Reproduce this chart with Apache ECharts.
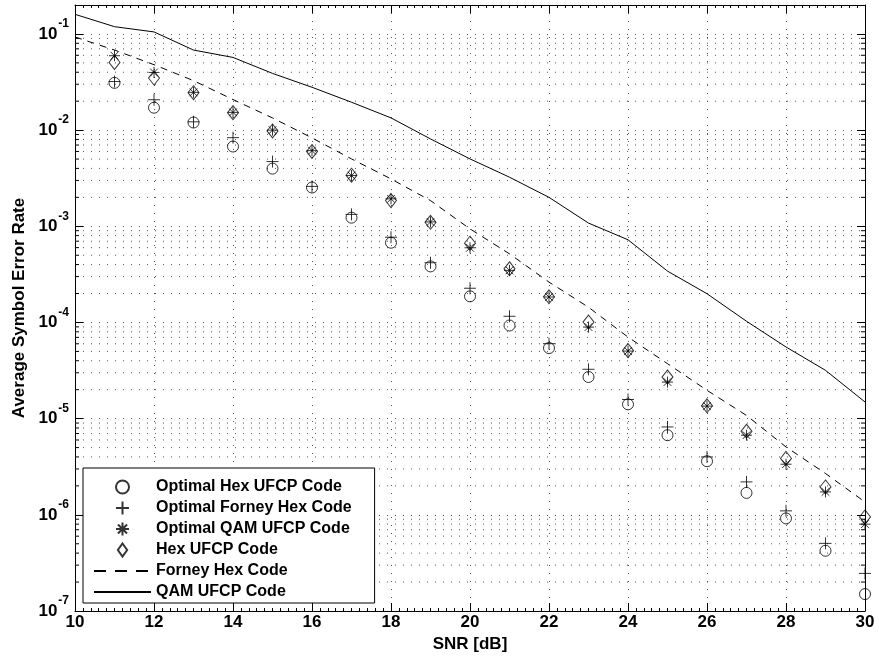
<!DOCTYPE html>
<html>
<head>
<meta charset="utf-8">
<script src="https://cdn.jsdelivr.net/npm/echarts@6/dist/echarts.min.js"></script>
<style>
  html, body { margin: 0; padding: 0; background: #fff; }
  #chart { width: 879px; height: 664px; }
</style>
</head>
<body>
<div id="chart"></div>
<script>
// SNR points (dB)
const snrMarkers = [11, 12, 13, 14, 15, 16, 17, 18, 19, 20, 21, 22, 23, 24, 25, 26, 27, 28, 29, 30];
const snrLines = [10, 11, 12, 13, 14, 15, 16, 17, 18, 19, 20, 21, 22, 23, 24, 25, 26, 27, 28, 29, 30];

// symbol error rates
const optHexUfcp = [0.031, 0.0171, 0.0120, 0.00675, 0.00398, 0.00253, 0.00123, 6.75e-4, 3.83e-4, 1.87e-4,
  9.3e-5, 5.42e-5, 2.71e-5, 1.41e-5, 6.73e-6, 3.61e-6, 1.69e-6, 9.18e-7, 4.23e-7, 1.50e-7];
const optForneyHex = [0.032, 0.0207, 0.0122, 0.00835, 0.00471, 0.0026, 0.00133, 7.7e-4, 4.18e-4, 2.27e-4,
  1.16e-4, 6.02e-5, 3.26e-5, 1.58e-5, 8.2e-6, 4.0e-6, 2.2e-6, 1.10e-6, 5.05e-7, 2.46e-7];
const optQamUfcp = [0.0594, 0.0398, 0.0247, 0.0153, 0.0100, 0.00612, 0.00337, 0.00193, 0.00111, 5.98e-4,
  3.48e-4, 1.84e-4, 8.95e-5, 5.04e-5, 2.40e-5, 1.35e-5, 6.73e-6, 3.36e-6, 1.73e-6, 8.0e-7];
const hexUfcp = [0.0506, 0.0348, 0.0245, 0.0152, 0.0098, 0.0060, 0.0034, 0.00185, 0.0011, 6.67e-4,
  3.62e-4, 1.85e-4, 1.01e-4, 5.1e-5, 2.71e-5, 1.36e-5, 7.4e-6, 3.86e-6, 1.95e-6, 9.5e-7];
const forneyHex = [0.093, 0.068, 0.0479, 0.0327, 0.0208, 0.0134, 0.0083, 0.00502, 0.00311, 0.00185, 9.4e-4,
  5.17e-4, 2.63e-4, 1.44e-4, 7.05e-5, 3.73e-5, 1.97e-5, 1.08e-5, 5.08e-6, 2.69e-6, 1.36e-6];
const qamUfcp = [0.16, 0.119, 0.105, 0.068, 0.057, 0.0389, 0.0279, 0.0195, 0.0134, 0.0081, 0.00502,
  0.00324, 0.002, 0.00108, 7.24e-4, 3.42e-4, 1.99e-4, 1.03e-4, 5.56e-5, 3.18e-5, 1.49e-5];

const seriesNames = ['Optimal Hex UFCP Code', 'Optimal Forney Hex Code', 'Optimal QAM UFCP Code',
  'Hex UFCP Code', 'Forney Hex Code', 'QAM UFCP Code'];

const FONT = '"Liberation Sans", Arial, Helvetica, sans-serif';
const X_MIN = 10, X_MAX = 30, Y_MIN = 1e-7, Y_MAX = 0.2;

// minor log grid lines at 2..9 x 10^k
const minorVals = [];
for (let k = -7; k <= -1; k++) {
  for (let m = 2; m <= 9; m++) {
    const v = m * Math.pow(10, k);
    if (v < Y_MAX) minorVals.push([X_MIN, v]);
  }
}

const zip = (xs, ys) => xs.map((x, i) => [x, ys[i]]);

const plusPath = 'path://M5,0L5,10M0,5L10,5';
const starPath = 'path://M5,0L5,10M0,5L10,5M1.5,1.5L8.5,8.5M1.5,8.5L8.5,1.5';
const diamondPath = 'path://M5,0L10,7L5,14L0,7Z';
const markerStyle = { color: 'transparent', borderColor: '#000', borderWidth: 1 };

const chart = echarts.init(document.getElementById('chart'), null, { renderer: 'canvas' });

const dotted = { color: '#555', width: 1, type: [1, 7] };

const options = {
  animation: false,
  backgroundColor: '#fff',
  grid: { left: 75, right: 14, top: 5, bottom: 53 },
  legend: {
    orient: 'vertical',
    left: 83,
    top: 468,
    data: seriesNames.map((n, i) => i === 4 ? { name: n, lineStyle: { type: [12, 9] } } : n),
    itemWidth: 57,
    itemHeight: 13,
    itemGap: 5,
    padding: [11, 23, 3, 10],
    backgroundColor: '#fff',
    borderColor: '#000',
    borderWidth: 1,
    borderRadius: 0,
    selectedMode: false,
    textStyle: { fontFamily: FONT, fontWeight: 'bold', fontSize: 16, color: '#000', lineHeight: 16 },
  },
  xAxis: [
    {
      type: 'value', min: X_MIN, max: X_MAX, interval: 2,
      name: 'SNR [dB]', nameLocation: 'middle', nameGap: 19,
      nameTextStyle: { fontFamily: FONT, fontWeight: 'bold', fontSize: 17, color: '#000' },
      axisLine: { show: true, lineStyle: { color: '#000', width: 1 } },
      axisTick: { inside: true, length: 8, lineStyle: { color: '#000' } },
      minorTick: { show: true, splitNumber: 10, length: 3, lineStyle: { color: '#000' } },
      axisLabel: { margin: 3, fontFamily: FONT, fontWeight: 'bold', fontSize: 17, color: '#000',
        formatter: v => String(v) },
      splitLine: { show: true, lineStyle: dotted },
    },
    {
      type: 'value', position: 'top', min: X_MIN, max: X_MAX, interval: 2,
      axisLine: { show: true, onZero: false, lineStyle: { color: '#000', width: 1 } },
      axisTick: { inside: true, length: 8, lineStyle: { color: '#000' } },
      minorTick: { show: true, splitNumber: 10, length: 3, lineStyle: { color: '#000' } },
      axisLabel: { show: false },
      splitLine: { show: false },
    },
  ],
  yAxis: [
    {
      type: 'log', logBase: 10, min: Y_MIN, max: Y_MAX, splitNumber: 7,
      name: 'Average Symbol Error Rate', nameLocation: 'middle', nameGap: 47,
      nameTextStyle: { fontFamily: FONT, fontWeight: 'bold', fontSize: 17, color: '#000' },
      axisLine: { show: true, lineStyle: { color: '#000', width: 1 } },
      axisTick: { inside: true, length: 8, lineStyle: { color: '#000' } },
      axisLabel: {
        margin: 6,
        formatter: function (v) {
          const e = Math.round(Math.log10(v));
          if (Math.abs(Math.log10(v) - e) > 1e-6) return '';
          return '{b|10}{s|' + e + '}';
        },
        rich: {
          b: { fontFamily: FONT, fontWeight: 'bold', fontSize: 17, color: '#000', lineHeight: 17,
            padding: [12.5, 0, 0, 0], verticalAlign: 'bottom' },
          s: { fontFamily: FONT, fontWeight: 'bold', fontSize: 12, color: '#000', lineHeight: 12,
            padding: [0, 0, 12.5, 1], verticalAlign: 'bottom' },
        },
      },
      splitLine: { show: true, lineStyle: dotted },
    },
    {
      type: 'log', logBase: 10, min: Y_MIN, max: Y_MAX, splitNumber: 7, position: 'right',
      axisLine: { show: true, onZero: false, lineStyle: { color: '#000', width: 1 } },
      axisTick: { inside: true, length: 8, lineStyle: { color: '#000' } },
      axisLabel: { show: false },
      splitLine: { show: false },
    },
  ],
  series: [
    {
      name: 'minor grid',
      type: 'custom',
      silent: true,
      z: 1,
      data: minorVals,
      encode: { x: 0, y: 1 },
      renderItem: function (params, api) {
        const v = api.value(1);
        const p0 = api.coord([X_MIN, v]);
        const p1 = api.coord([X_MAX, v]);
        return {
          type: 'group',
          children: [
            { type: 'line', shape: { x1: p0[0], y1: p0[1], x2: p1[0], y2: p1[1] },
              style: { stroke: '#555', lineWidth: 1, lineDash: [1, 7] } },
            { type: 'line', shape: { x1: p0[0], y1: p0[1], x2: p0[0] + 4, y2: p0[1] },
              style: { stroke: '#000', lineWidth: 1 } },
            { type: 'line', shape: { x1: p1[0] - 4, y1: p1[1], x2: p1[0], y2: p1[1] },
              style: { stroke: '#000', lineWidth: 1 } },
          ],
        };
      },
    },
    {
      name: seriesNames[0], type: 'scatter', z: 5,
      data: zip(snrMarkers, optHexUfcp),
      symbol: 'circle', symbolSize: 11, itemStyle: markerStyle,
    },
    {
      name: seriesNames[1], type: 'scatter', z: 5,
      data: zip(snrMarkers, optForneyHex),
      symbol: plusPath, symbolSize: 12, itemStyle: markerStyle,
    },
    {
      name: seriesNames[2], type: 'scatter', z: 5,
      data: zip(snrMarkers, optQamUfcp),
      symbol: starPath, symbolSize: 11, itemStyle: markerStyle,
    },
    {
      name: seriesNames[3], type: 'scatter', z: 5,
      data: zip(snrMarkers, hexUfcp),
      symbol: diamondPath, symbolSize: [11, 14], itemStyle: markerStyle,
    },
    {
      name: seriesNames[4], type: 'line', z: 4,
      data: zip(snrLines, forneyHex),
      symbol: 'circle', showSymbol: false, symbolSize: 0,
      itemStyle: { color: 'transparent', borderWidth: 0 },
      lineStyle: { color: '#000', width: 1, type: [7, 6] },
    },
    {
      name: seriesNames[5], type: 'line', z: 4,
      data: zip(snrLines, qamUfcp),
      symbol: 'circle', showSymbol: false, symbolSize: 0,
      itemStyle: { color: 'transparent', borderWidth: 0 },
      lineStyle: { color: '#000', width: 1, type: 'solid' },
    },
  ],
};

chart.setOption(options);
</script>
</body>
</html>
